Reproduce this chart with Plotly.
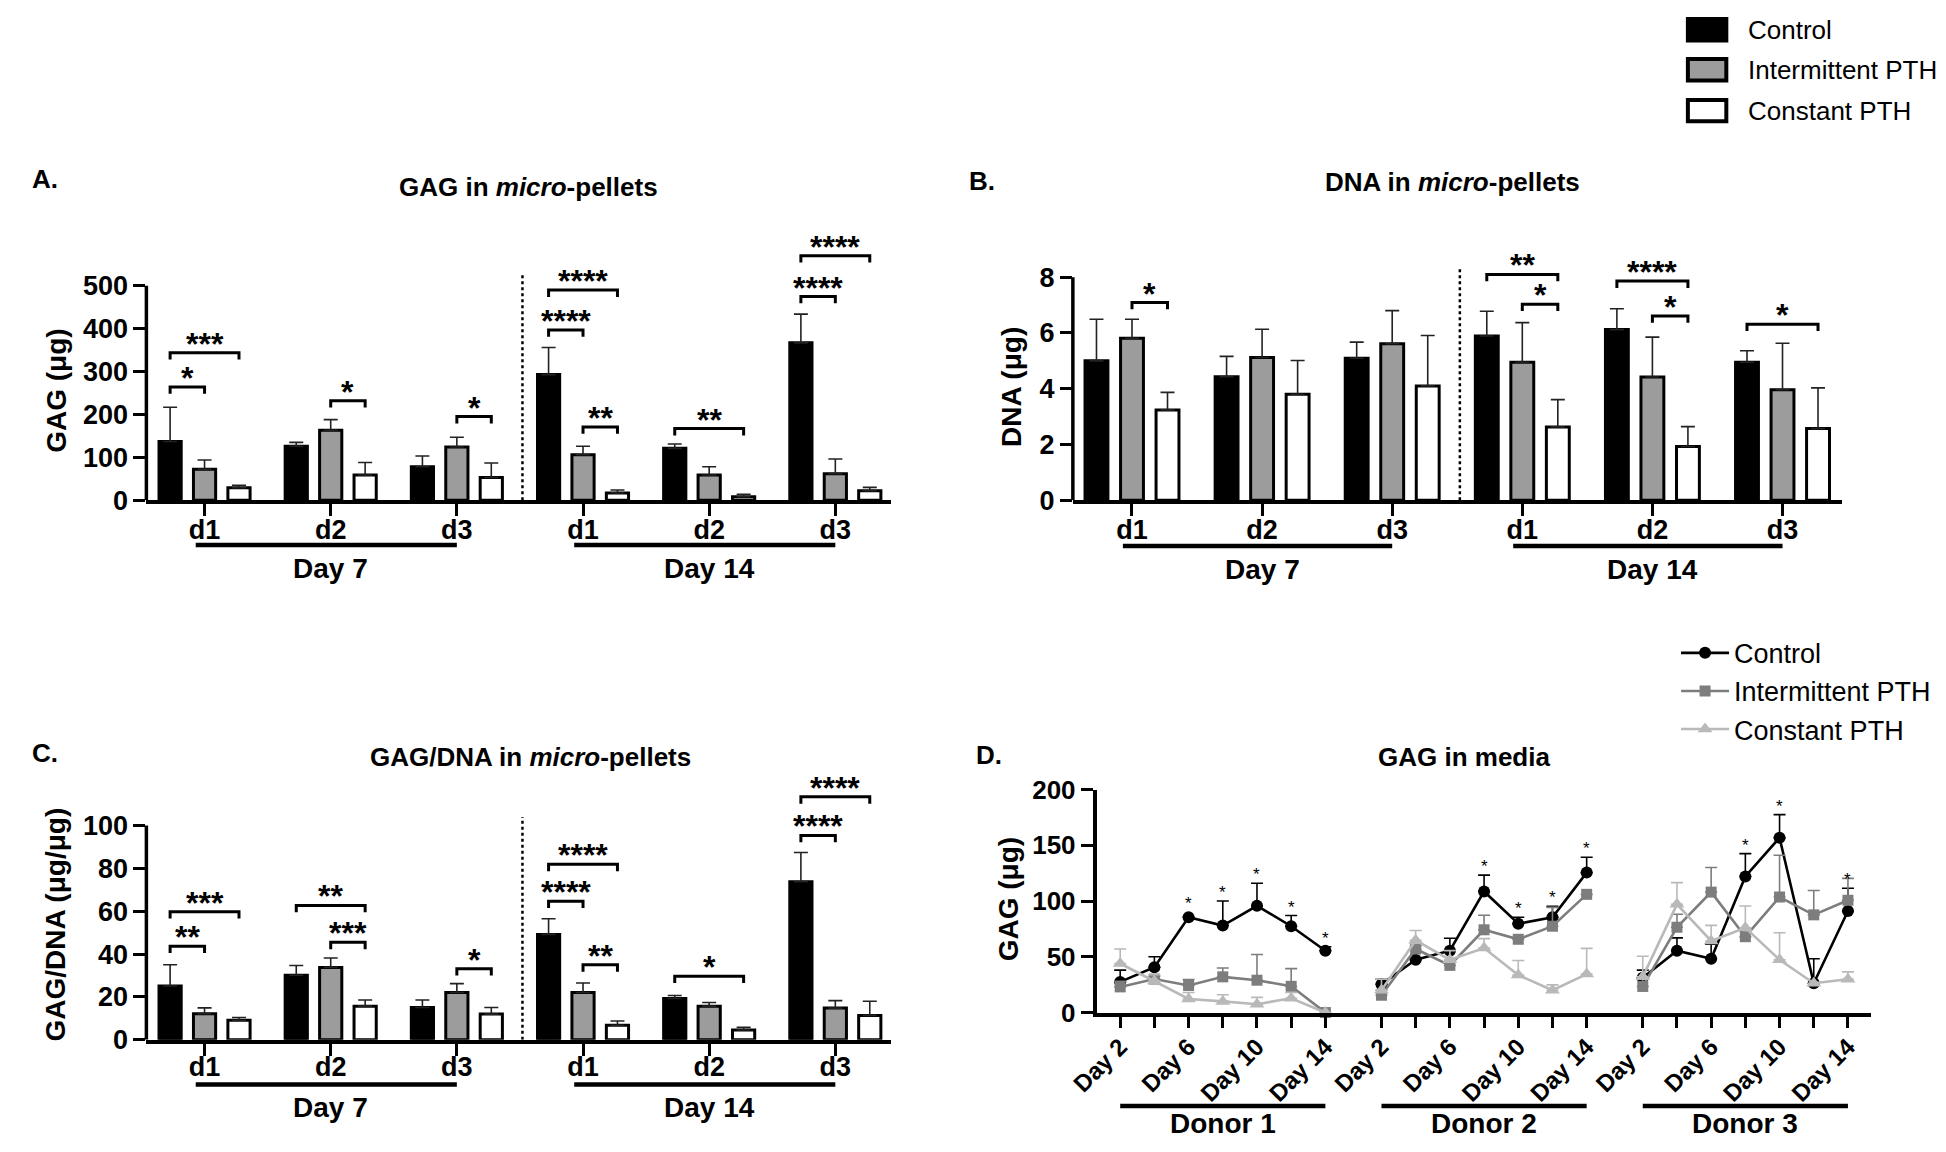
import plotly.graph_objects as go

W, H = 1946, 1152

treatments = ['Control', 'Intermittent PTH', 'Constant PTH']
bar_groups = ['d1', 'd2', 'd3', 'd1', 'd2', 'd3']
day_sets = ['Day 7', 'Day 14']

# A. GAG in micro-pellets (ug): means and SD
gag_control = [137, 126, 78, 293, 121, 367]
gag_intermittent = [72, 163, 124, 106, 59, 62]
gag_constant = [29, 59, 53, 17, 8, 22]
gag_control_sd = [80, 9, 25, 63, 10, 67]
gag_intermittent_sd = [22, 25, 23, 20, 19, 34]
gag_constant_sd = [6, 29, 34, 7, 6, 8]
# (group, from, to, bracket height, label)
gag_sig = [(0, 0, 1, 264, '*'), (0, 0, 2, 344, '***'), (1, 1, 2, 232, '*'),
           (2, 1, 2, 195, '*'), (3, 0, 1, 397, '****'), (3, 0, 2, 490, '****'),
           (3, 1, 2, 171, '**'), (4, 0, 2, 167, '**'), (5, 0, 1, 475, '****'),
           (5, 0, 2, 570, '****')]

# B. DNA in micro-pellets (ug)
dna_control = [5.00, 4.43, 5.09, 5.89, 6.12, 4.95]
dna_intermittent = [5.81, 5.12, 5.61, 4.95, 4.42, 3.96]
dna_constant = [3.24, 3.80, 4.10, 2.63, 1.93, 2.57]
dna_control_sd = [1.49, 0.73, 0.58, 0.89, 0.75, 0.41]
dna_intermittent_sd = [0.68, 1.01, 1.19, 1.42, 1.43, 1.67]
dna_constant_sd = [0.63, 1.21, 1.81, 0.98, 0.71, 1.46]
dna_sig = [(0, 1, 2, 7.09, '*'), (3, 0, 2, 8.10, '**'), (3, 1, 2, 7.03, '*'),
           (4, 0, 2, 7.86, '****'), (4, 1, 2, 6.61, '*'), (5, 0, 2, 6.31, '*')]

# C. GAG/DNA in micro-pellets (ug/ug)
ratio_control = [25.1, 30.1, 15.1, 49.2, 19.3, 73.8]
ratio_intermittent = [12.2, 33.8, 22.1, 22.1, 15.7, 14.8]
ratio_constant = [9.1, 15.7, 12.0, 6.8, 4.6, 11.4]
ratio_control_sd = [9.9, 4.6, 3.5, 7.3, 1.4, 13.6]
ratio_intermittent_sd = [2.7, 4.4, 4.1, 4.4, 1.7, 3.5]
ratio_constant_sd = [1.3, 2.9, 3.1, 2.0, 1.2, 6.6]
ratio_sig = [(0, 0, 1, 43.7, '**'), (0, 0, 2, 59.8, '***'), (1, 0, 2, 62.7, '**'),
             (1, 1, 2, 45.5, '***'), (2, 1, 2, 33.2, '*'), (3, 0, 1, 64.7, '****'),
             (3, 0, 2, 81.9, '****'), (3, 1, 2, 35.0, '**'), (4, 0, 2, 29.7, '*'),
             (5, 0, 1, 95.4, '****'), (5, 0, 2, 113.4, '****')]

# D. GAG in media (ug), per donor, days 2..14
days = [2, 4, 6, 8, 10, 12, 14]
donors = ['Donor 1', 'Donor 2', 'Donor 3']
media_control = [[27.5, 40.6, 85.5, 78.0, 95.7, 77.4, 55.4],
                 [25.4, 47.3, 55.5, 108.6, 79.7, 85.5, 125.5],
                 [31.2, 55.5, 48.2, 122.0, 156.8, 26.3, 91.0]]
media_control_sd = [[10.5, 9.4, 0, 22.0, 20.3, 9.6, 3.6],
                    [4.4, 0, 11.1, 14.6, 5.8, 9.7, 13.8],
                    [6.8, 11.5, 13.1, 20.5, 20.7, 21.9, 20.5]]
media_intermittent = [[23.0, 30.0, 24.3, 32.0, 29.0, 23.5, 0],
                      [15.5, 57.0, 42.3, 74.2, 65.7, 77.4, 106.0],
                      [23.4, 76.5, 108.0, 68.0, 103.6, 87.6, 100.7]]
media_intermittent_sd = [[5.0, 2.5, 5.3, 8.0, 23.0, 15.9, 0],
                         [4.5, 3.0, 0, 13.1, 0, 16.9, 0],
                         [6.6, 11.7, 22.0, 0, 37.4, 21.9, 19.6]]
media_constant = [[44.0, 28.4, 12.2, 10.0, 7.5, 12.8, 0],
                  [20.0, 64.8, 47.3, 57.8, 33.6, 20.0, 34.5],
                  [32.0, 97.0, 64.2, 76.0, 47.3, 26.3, 29.8]]
media_constant_sd = [[13.0, 5.6, 5.8, 6.0, 6.1, 5.2, 0],
                     [10.0, 8.8, 8.2, 8.5, 13.1, 4.8, 23.0],
                     [18.5, 19.5, 14.0, 19.5, 24.2, 0, 6.7]]
# day indices where Control differs significantly
media_sig = [[2, 3, 4, 5, 6], [3, 4, 5, 6], [3, 4, 6]]

FONT = 'Liberation Sans, Arial, Helvetica, sans-serif'
BAR_FILL = ['#000000', '#9c9c9c', '#ffffff']
LINE_COLOR = ['#000000', '#7d7d7d', '#b9b9b9']
SYMBOLS = ['circle', 'square', 'triangle-up']
SLOT = [-0.273, 0.0, 0.273]
DONOR_STEP = 7.64
PAGE = 8  # the html body margin shifts the figure by 8px


def px(x):
    return (x - PAGE) / W


def py(y):
    return 1 - (y - PAGE) / H


fig = go.Figure()
shapes = []
annotations = []
bold = dict(family=FONT, size=28, color='black', weight='bold')
tick_font = dict(family=FONT, size=27, color='black', weight='bold')


def note(x, y, text, font, xref='paper', yref='paper', **kw):
    annotations.append(dict(x=x, y=y, xref=xref, yref=yref, text=text, showarrow=False,
                            xanchor=kw.pop('xanchor', 'center'),
                            yanchor=kw.pop('yanchor', 'middle'), font=font, **kw))


def bar_panel(n, means, sds, sig, unit_px, tick_top, sep_top, line_y, label_y):
    xa, ya = ('x', 'y') if n == 1 else (f'x{n}', f'y{n}')
    for k, name in enumerate(treatments):
        fig.add_trace(go.Bar(
            x=[g + SLOT[k] for g in range(len(bar_groups))], y=means[k],
            width=0.176, name=name, showlegend=False, xaxis=xa, yaxis=ya,
            marker=dict(color=BAR_FILL[k], line=dict(color='black', width=3)),
            error_y=dict(type='data', array=sds[k], arrayminus=[0] * len(sds[k]),
                         symmetric=False, thickness=1.6, width=7, color='#222222'),
        ))
    drop = 7 / unit_px
    for g, a, b, h, lab in sig:
        x0, x1 = g + SLOT[a], g + SLOT[b]
        shapes.append(dict(type='path', xref=xa, yref=ya,
                           path=f'M{x0},{h - drop} L{x0},{h} L{x1},{h} L{x1},{h - drop}',
                           line=dict(color='black', width=3)))
        note((x0 + x1) / 2, h, lab, dict(family=FONT, size=32, color='black', weight='bold'),
             xref=xa, yref=ya, yanchor='bottom', yshift=-11)
    # dotted separator between day 7 and day 14
    shapes.append(dict(type='line', xref=xa, yref=ya, x0=2.52, x1=2.52, y0=0, y1=sep_top,
                       line=dict(color='black', width=2.5, dash='dot')))
    # y axis line only up to the last tick
    shapes.append(dict(type='line', xref=f'{xa} domain', yref=ya, x0=0, x1=0, y0=0, y1=tick_top,
                       line=dict(color='black', width=3.5)))
    for i, lab in enumerate(day_sets):
        shapes.append(dict(type='line', xref=xa, yref='paper', x0=3 * i - 0.07, x1=3 * i + 2,
                           y0=py(line_y), y1=py(line_y), line=dict(color='black', width=4.5)))
        note(3 * i + 1, py(label_y), lab, bold, xref=xa)


bar_panel(1, [gag_control, gag_intermittent, gag_constant],
          [gag_control_sd, gag_intermittent_sd, gag_constant_sd],
          gag_sig, 0.44, 500, 525, 544, 568)
bar_panel(2, [dna_control, dna_intermittent, dna_constant],
          [dna_control_sd, dna_intermittent_sd, dna_constant_sd],
          dna_sig, 28.625, 8, 8.3, 545, 569)
bar_panel(3, [ratio_control, ratio_intermittent, ratio_constant],
          [ratio_control_sd, ratio_intermittent_sd, ratio_constant_sd],
          ratio_sig, 2.2, 100, 104, 1098, 1121)

# D. line chart, one break between donors
for k, name in enumerate(treatments):
    series = [media_control, media_intermittent, media_constant][k]
    sd = [media_control_sd, media_intermittent_sd, media_constant_sd][k]
    xs, ys, es = [], [], []
    for d in range(len(donors)):
        for i in range(len(days)):
            xs.append(d * DONOR_STEP + i)
            ys.append(series[d][i])
            es.append(sd[d][i])
        xs.append(None)
        ys.append(None)
        es.append(None)
    fig.add_trace(go.Scatter(
        x=xs, y=ys, name=name, mode='lines+markers', xaxis='x4', yaxis='y4',
        cliponaxis=False,
        line=dict(color=LINE_COLOR[k], width=2.6),
        marker=dict(symbol=SYMBOLS[k], size=[12, 11, 13][k], color=LINE_COLOR[k]),
        error_y=dict(type='data', array=es, arrayminus=[0] * len(es), symmetric=False,
                     thickness=1.6, width=6, color=LINE_COLOR[k]),
    ))

for d, idx in enumerate(media_sig):
    for i in idx:
        note(d * DONOR_STEP + i, media_control[d][i] + media_control_sd[d][i], '*',
             dict(family=FONT, size=17, color='black'), xref='x4', yref='y4',
             yanchor='bottom', yshift=-3 if media_control_sd[d][i] else 2)
for d, name in enumerate(donors):
    shapes.append(dict(type='line', xref='x4', yref='paper', x0=d * DONOR_STEP,
                       x1=d * DONOR_STEP + 6, y0=py(1120), y1=py(1120),
                       line=dict(color='black', width=4.5)))
    note(d * DONOR_STEP + 3, py(1138), name, bold, xref='x4')

# titles, panel letters, axis titles
title_font = dict(family=FONT, size=26, color='black', weight='bold')
for txt, x, y in [('GAG in <i>micro</i>-pellets', 508, 176),
                  ('DNA in <i>micro</i>-pellets', 1445, 171),
                  ('GAG/DNA in <i>micro</i>-pellets', 510, 762),
                  ('GAG in media', 1457, 762)]:
    note(px(x), py(y), txt, title_font)
for txt, x, y in [('A.', 2, 168), ('B.', 953, 170), ('C.', 2, 758), ('D.', 960, 760)]:
    note(px(x), py(y), txt, title_font, xanchor='left')
for txt, x, y in [('GAG (μg)', 28, 386), ('DNA (μg)', 997, 382),
                  ('GAG/DNA (μg/μg)', 28, 934), ('GAG (μg)', 995, 908)]:
    note(px(x), py(y), txt, bold, textangle=-90)

# bar legend (top right)
for k, name in enumerate(treatments):
    yc = [15, 56, 98][k]
    shapes.append(dict(type='rect', xref='paper', yref='paper', x0=px(1684), x1=px(1723),
                       y0=py(yc + 11), y1=py(yc - 11), fillcolor=BAR_FILL[k],
                       line=dict(color='black', width=4)))
    note(px(1743), py(yc), name, dict(family=FONT, size=26, color='black'), xanchor='left')

bar_x = dict(showline=True, linewidth=3.5, linecolor='black', ticks='outside', ticklen=12,
             tickwidth=3, tickcolor='black', tickmode='array',
             tickvals=list(range(len(bar_groups))), ticktext=bar_groups, tickfont=tick_font,
             showgrid=False, zeroline=False)
bar_y = dict(showline=False, ticks='outside', ticklen=12, tickwidth=3, tickcolor='black',
             tickfont=tick_font, showgrid=False, zeroline=False)

fig.update_layout(
    width=W, height=H, margin=dict(l=0, r=0, t=0, b=0),
    paper_bgcolor='white', plot_bgcolor='white', barmode='overlay',
    xaxis=dict(bar_x, domain=[px(120), px(875)], range=[-0.461, 5.4375], anchor='y',
               ticklabelstandoff=-9),
    yaxis=dict(bar_y, domain=[py(498), py(225)], range=[0, 620], anchor='x',
               tickvals=[0, 100, 200, 300, 400, 500]),
    xaxis2=dict(bar_x, domain=[px(1060), px(1840)], range=[-0.4545, 5.4545], anchor='y2',
                ticklabelstandoff=-9),
    yaxis2=dict(bar_y, domain=[py(498), py(251.8)], range=[0, 8.6], anchor='x2',
                tickvals=[0, 2, 4, 6, 8]),
    xaxis3=dict(bar_x, domain=[px(120), px(875)], range=[-0.461, 5.4375], anchor='y3',
                ticklabelstandoff=-12),
    yaxis3=dict(bar_y, domain=[py(1052), py(777)], range=[0, 125], anchor='x3',
                tickvals=[0, 20, 40, 60, 80, 100]),
    xaxis4=dict(showline=True, linewidth=3.5, linecolor='black', ticks='outside', ticklen=12,
                tickwidth=3, tickcolor='black', tickmode='array',
                tickvals=[d * DONOR_STEP + i for d in range(3) for i in range(len(days))],
                ticktext=[f'Day {day}' if i % 2 == 0 else '' for _ in donors
                          for i, day in enumerate(days)],
                tickangle=-45, ticklabelstandoff=-5,
                tickfont=dict(family=FONT, size=24, color='black', weight='bold'),
                domain=[px(1084), px(1870)], range=[-0.692, 21.96], anchor='y4',
                showgrid=False, zeroline=False),
    yaxis4=dict(showline=True, linewidth=3.5, linecolor='black', ticks='outside', ticklen=12,
                tickwidth=3, tickcolor='black', tickvals=[0, 50, 100, 150, 200],
                tickfont=dict(family=FONT, size=26, color='black', weight='bold'),
                domain=[py(1024), py(795)], range=[0, 200], anchor='x4',
                showgrid=False, zeroline=False),
    legend=dict(x=px(1672), y=py(630), xanchor='left', yanchor='top', itemwidth=48,
                font=dict(family=FONT, size=27, color='black'), tracegroupgap=0,
                bgcolor='rgba(0,0,0,0)'),
    shapes=shapes, annotations=annotations,
)

fig.write_html("out.html")
